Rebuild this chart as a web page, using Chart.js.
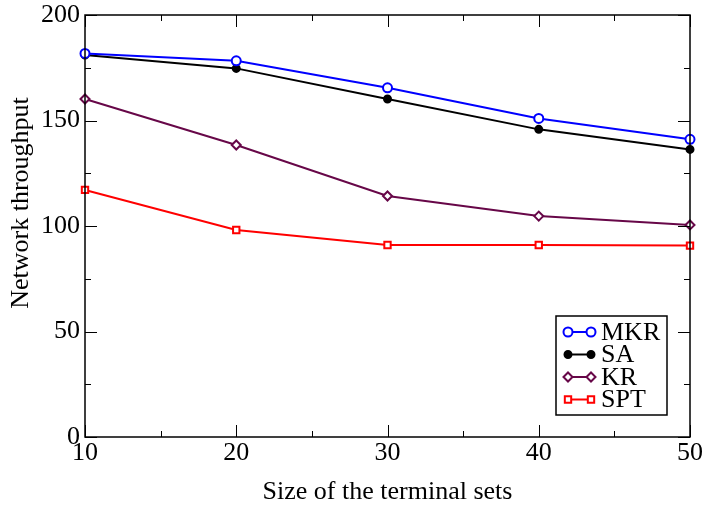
<!DOCTYPE html>
<html>
<head>
<meta charset="utf-8">
<script src="https://cdn.jsdelivr.net/npm/chart.js@4"></script>
<style>
  html, body { margin: 0; padding: 0; background: #fff; }
  #wrap { width: 705px; height: 508px; }
</style>
</head>
<body>
<div id="wrap"><canvas id="chart" width="705" height="508"></canvas></div>
<script>
// ---------------- DATA ----------------
const sizes = [10, 20, 30, 40, 50];
const mkr = [181.8, 178.3, 165.5, 151.0, 141.1];
const sa  = [181.0, 174.7, 160.2, 145.8, 136.3];
const kr  = [160.2, 138.4, 114.2, 104.7, 100.5];
const spt = [117.1, 98.1, 91.0, 91.0, 90.7];

const xMajor = [10, 20, 30, 40, 50];
const xMinor = [15, 25, 35, 45];
const yMajor = [0, 50, 100, 150, 200];
const yMinor = [25, 75, 125, 175];

const yTitle = "Network throughput";
const xTitle = "Size of the terminal sets";

const FONT = "'Liberation Serif', 'DejaVu Serif', serif";

function pts(vals) {
  return sizes.map((x, i) => ({ x: x, y: vals[i] }));
}

function series(label, vals, color, style, radius, filled) {
  return {
    label: label,
    data: pts(vals),
    borderColor: color,
    backgroundColor: filled ? color : "#fff",
    pointBorderColor: color,
    pointBackgroundColor: filled ? color : "#fff",
    pointStyle: style,
    pointRadius: radius,
    pointBorderWidth: 2,
    borderWidth: 2,
    tension: 0,
    clip: false
  };
}

// ---------------- PLUGINS ----------------
// box frame + inward ticks on all four sides
const frame = {
  id: "frame",
  afterDatasetsDraw(chart) {
    const { ctx, chartArea: a, scales } = chart;
    ctx.save();
    ctx.strokeStyle = "#000";
    ctx.lineWidth = 1.5;
    ctx.strokeRect(a.left, a.top, a.right - a.left, a.bottom - a.top);
    ctx.lineWidth = 1;
    ctx.beginPath();
    const xt = (v, len) => {
      const px = Math.round(scales.x.getPixelForValue(v)) + 0.5;
      ctx.moveTo(px, a.bottom); ctx.lineTo(px, a.bottom - len);
      ctx.moveTo(px, a.top); ctx.lineTo(px, a.top + len);
    };
    const yt = (v, len) => {
      const py = Math.round(scales.y.getPixelForValue(v)) + 0.5;
      ctx.moveTo(a.left, py); ctx.lineTo(a.left + len, py);
      ctx.moveTo(a.right, py); ctx.lineTo(a.right - len, py);
    };
    xMajor.forEach(v => xt(v, 12));
    xMinor.forEach(v => xt(v, 6));
    yMajor.forEach(v => yt(v, 12));
    yMinor.forEach(v => yt(v, 6));
    ctx.stroke();
    ctx.restore();
  }
};

// y title sits a bit above the middle of the axis in the original
const sideTitle = {
  id: "sideTitle",
  afterDraw(chart) {
    const { ctx } = chart;
    ctx.save();
    ctx.translate(21, 203);
    ctx.rotate(-Math.PI / 2);
    ctx.fillStyle = "#000";
    ctx.font = "26px " + FONT;
    ctx.textAlign = "center";
    ctx.textBaseline = "middle";
    ctx.fillText(yTitle, 0, 0);
    ctx.restore();
  }
};

// boxed legend inside the plot, lower right
const boxLegend = {
  id: "boxLegend",
  afterDraw(chart) {
    const { ctx } = chart;
    const x0 = 556, y0 = 316, w = 111, h = 99;
    ctx.save();
    ctx.fillStyle = "#fff";
    ctx.fillRect(x0, y0, w, h);
    ctx.strokeStyle = "#000";
    ctx.lineWidth = 1.5;
    ctx.strokeRect(x0, y0, w, h);
    chart.data.datasets.forEach((ds, i) => {
      const y = y0 + 16 + i * 22.5;
      ctx.strokeStyle = ds.borderColor;
      ctx.lineWidth = 2;
      ctx.beginPath();
      ctx.moveTo(568, y); ctx.lineTo(591, y);
      ctx.stroke();
      const opt = {
        pointStyle: ds.pointStyle, radius: ds.pointRadius, borderWidth: 2, rotation: 0
      };
      ctx.fillStyle = ds.pointBackgroundColor;
      ctx.strokeStyle = ds.pointBorderColor;
      Chart.helpers.drawPoint(ctx, opt, 568, y);
      Chart.helpers.drawPoint(ctx, opt, 591, y);
      ctx.fillStyle = "#000";
      ctx.font = "26px " + FONT;
      ctx.textBaseline = "middle";
      ctx.fillText(ds.label, 601, y + 1);
    });
    ctx.restore();
  }
};

// ---------------- CHART ----------------
const ctx = document.getElementById("chart").getContext("2d");

new Chart(ctx, {
  type: "line",
  data: {
    datasets: [
      series("MKR", mkr, "#0000ff", "circle", 4.5, false),
      series("SA", sa, "#000000", "circle", 3.5, true),
      series("KR", kr, "#670748", "rectRot", 4.5, false),
      series("SPT", spt, "#ff0000", "rect", 4.5, false)
    ]
  },
  options: {
    responsive: false,
    animation: false,
    layout: { padding: { top: 0, right: 15, left: 0, bottom: 0 } },
    plugins: {
      legend: { display: false },
      tooltip: { enabled: false }
    },
    scales: {
      x: {
        type: "linear",
        min: 10, max: 50,
        afterBuildTicks: s => { s.ticks = xMajor.map(v => ({ value: v })); },
        afterFit: s => { s.height = 71; },
        grid: { display: false, drawTicks: false, tickLength: 0 },
        border: { display: false },
        ticks: { color: "#000", font: { family: FONT, size: 26 }, padding: 1, maxRotation: 0 },
        title: {
          display: true, text: xTitle, color: "#000",
          font: { family: FONT, size: 26 }, padding: { top: 0, bottom: 0 }
        }
      },
      y: {
        min: 0, max: 200,
        afterBuildTicks: s => { s.ticks = yMajor.map(v => ({ value: v })); },
        afterFit: s => { s.width = 85; s.paddingTop = 15; s.paddingBottom = 0; },
        grid: { display: false, drawTicks: false, tickLength: 0 },
        border: { display: false },
        ticks: { color: "#000", font: { family: FONT, size: 26 }, padding: 5 }
      }
    }
  },
  plugins: [frame, sideTitle, boxLegend]
});
</script>
</body>
</html>
